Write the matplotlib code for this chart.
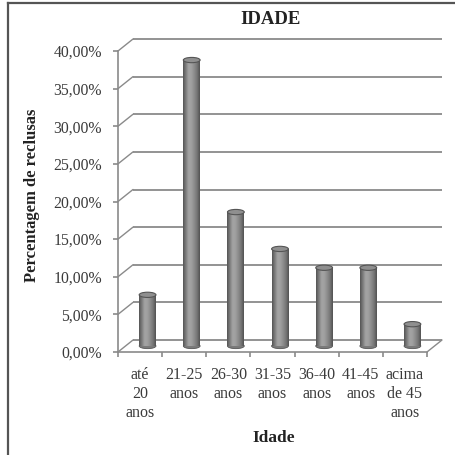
import matplotlib
matplotlib.use('Agg')
import matplotlib.pyplot as plt
import matplotlib.transforms as mtransforms
from matplotlib.patches import Ellipse, ConnectionPatch
from matplotlib.lines import Line2D
from matplotlib.colors import LinearSegmentedColormap
import numpy as np

# ---- data ----
categories = ['até\n20\nanos', '21-25\nanos', '26-30\nanos', '31-35\nanos',
              '36-40\nanos', '41-45\nanos', 'acima\nde 45\nanos']
values = [6.8, 38.0, 17.8, 12.9, 10.4, 10.4, 2.9]
yticks = [0, 5, 10, 15, 20, 25, 30, 35, 40]
ytick_labels = ['0,00%', '5,00%', '10,00%', '15,00%', '20,00%', '25,00%',
                '30,00%', '35,00%', '40,00%']
title = 'IDADE'
xlabel = 'Idade'
ylabel = 'Percentagem de reclusas'

plt.rcParams['font.family'] = ['Liberation Serif', 'DejaVu Serif']

W = H = 455
fig = plt.figure(figsize=(W / 100, H / 100), dpi=100)


def fx(px):
    return px / W


def fy(py):
    return 1 - py / H


ax = fig.add_axes([fx(118), fy(352), fx(427) - fx(118), fy(51) - fy(352)])
n = len(categories)
ax.set_xlim(-0.5, n - 0.5)
ax.set_ylim(0, 40)

grid_c = '#8a8a8a'
back = mtransforms.offset_copy(ax.transData, fig=fig, x=15, y=12, units='dots')
mid = mtransforms.offset_copy(ax.transData, fig=fig, x=7.5, y=6, units='dots')

# back wall gridlines and left-wall diagonals
for t in yticks:
    ax.plot([-0.5, n - 0.5], [t, t], transform=back, color=grid_c, lw=1.3,
            clip_on=False, zorder=1, solid_capstyle='butt')
    cp = ConnectionPatch(xyA=(-0.5, t), coordsA=ax.transData,
                         xyB=(-0.5, t), coordsB=back, color=grid_c, lw=1.0,
                         zorder=1)
    ax.add_artist(cp)
cp = ConnectionPatch(xyA=(n - 0.5, 0), coordsA=ax.transData,
                     xyB=(n - 0.5, 0), coordsB=back, color=grid_c, lw=1.0,
                     zorder=1)
ax.add_artist(cp)

# spines / ticks
for s in ['top', 'right']:
    ax.spines[s].set_visible(False)
for s in ['left', 'bottom']:
    ax.spines[s].set_color(grid_c)
    ax.spines[s].set_linewidth(1.2)
ax.set_yticks(yticks)
ax.set_yticklabels(ytick_labels)
ax.set_xticks(range(n))
ax.set_xticklabels(categories, linespacing=1.22)
ax.set_xticks(np.arange(-0.5, n, 1.0), minor=True)
ax.tick_params(axis='x', which='major', length=0, pad=11, labelsize=11.5,
               labelcolor='#3a3a3a')
ax.tick_params(axis='x', which='minor', length=3.5, width=1.2, color=grid_c,
               direction='out')
ax.tick_params(axis='y', length=3.5, width=1.2, color=grid_c, pad=8,
               labelsize=11.3, labelcolor='#3a3a3a')

# cylinders
cmap = LinearSegmentedColormap.from_list(
    'cyl', ['#555555', '#7d7d7d', '#a4a4a4', '#a0a0a0', '#8c8c8c',
            '#777777', '#525252'])
grad = np.linspace(0, 1, 64).reshape(1, -1)
bw = 0.38
eh = 0.7
for i, v in enumerate(values):
    ax.add_patch(Ellipse((i, 0), bw, eh, transform=mid, fc='#7a7a7a',
                         ec='#555555', lw=0.6, zorder=2.5, clip_on=False))
    bars = ax.bar(i, v, width=bw, transform=mid, color='#8c8c8c',
                  edgecolor='none', zorder=3, clip_on=False)
    im = ax.imshow(grad, cmap=cmap, extent=(i - bw / 2, i + bw / 2, 0, v),
                   aspect='auto', transform=mid, zorder=3.1,
                   interpolation='bilinear')
    im.set_clip_path(bars.patches[0])
    ax.add_patch(Ellipse((i, v), bw, eh, transform=mid, fc='#8f8f8f',
                         ec='#555555', lw=0.8, zorder=4, clip_on=False))

ax.set_xlim(-0.5, n - 0.5)
ax.set_ylim(0, 40)

# texts
fig.text(fx(271), fy(19), title, ha='center', va='center', fontsize=13.5,
         fontweight='bold', color='#222222')
fig.text(fx(274), fy(438), xlabel, ha='center', va='center', fontsize=12.5,
         fontweight='bold', color='#222222')
fig.text(fx(32), fy(195), ylabel, ha='center', va='center', fontsize=12,
         fontweight='bold', rotation=90, color='#222222')

# outer frame (left and top)
fig.add_artist(Line2D([fx(8), fx(8)], [0, fy(3)], transform=fig.transFigure,
                      color='#555555', lw=1.6))
fig.add_artist(Line2D([fx(8), 1], [fy(3), fy(3)], transform=fig.transFigure,
                      color='#555555', lw=1.6))

fig.savefig('out.png', dpi=100)
